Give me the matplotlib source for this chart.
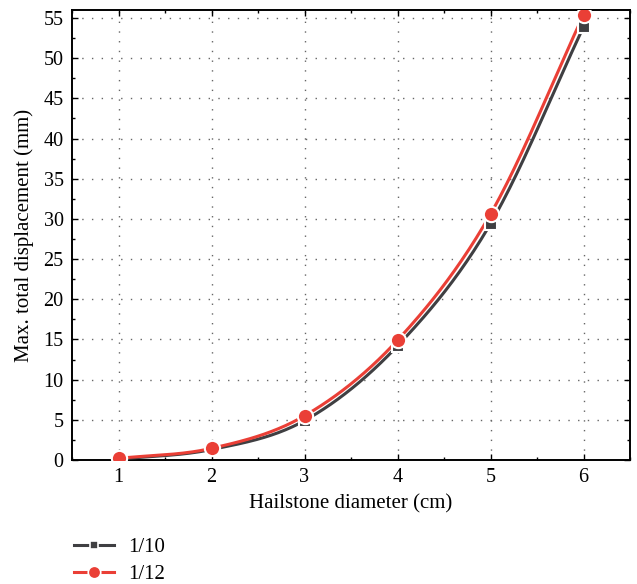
import numpy as np
import matplotlib
matplotlib.use("Agg")
import matplotlib.pyplot as plt
from matplotlib.ticker import MultipleLocator

# ── data ───────────────────────────────────────────────────────
diameter = [1, 2, 3, 4, 5, 6]
disp_1_10 = [0.1, 1.3, 4.9, 14.2, 29.4, 53.9]
disp_1_12 = [0.2, 1.45, 5.5, 14.9, 30.6, 55.4]

C_DARK = "#3f3f42"
C_RED = "#ea3f36"

plt.rcParams["font.family"] = ["Liberation Serif", "DejaVu Serif"]


def smooth(x, y, n=40):
    """Catmull-Rom curve through the points (drawing only)."""
    x, y = np.asarray(x, float), np.asarray(y, float)
    px = np.concatenate([[2 * x[0] - x[1]], x, [2 * x[-1] - x[-2]]])
    py = np.concatenate([[2 * y[0] - y[1]], y, [2 * y[-1] - y[-2]]])
    t = np.linspace(0, 1, n)
    xs, ys = [], []
    for i in range(1, len(px) - 2):
        for p, out in ((px, xs), (py, ys)):
            p0, p1, p2, p3 = p[i - 1], p[i], p[i + 1], p[i + 2]
            out.append(0.5 * ((2 * p1) + (-p0 + p2) * t
                              + (2 * p0 - 5 * p1 + 4 * p2 - p3) * t ** 2
                              + (-p0 + 3 * p1 - 3 * p2 + p3) * t ** 3))
    return np.concatenate(xs), np.concatenate(ys)


fig = plt.figure(figsize=(6.37, 5.84), dpi=100)
ax = fig.add_axes([72 / 637, 1 - 460 / 584, 558 / 637, 450 / 584])

for x, y, c, m, ms, lab in [
    (diameter, disp_1_10, C_DARK, "s", 8, "1/10"),
    (diameter, disp_1_12, C_RED, "o", 11, "1/12"),
]:
    sx, sy = smooth(x, y)
    ax.plot(sx, sy, color=c, lw=2.2, zorder=3)
    ax.plot(x, y, ls="none", marker=m, ms=ms, color=c,
            mec="white", mew=1.5, zorder=4)
    ax.plot([], [], color=c, lw=2.2, marker=m, ms=ms - 2,
            mec="white", mew=1.2, label=lab)

ax.set_xlim(0.5, 6.5)
ax.set_ylim(0, 56)
ax.xaxis.set_major_locator(MultipleLocator(1))
ax.xaxis.set_minor_locator(MultipleLocator(0.5))
ax.yaxis.set_major_locator(MultipleLocator(5))
ax.yaxis.set_minor_locator(MultipleLocator(2.5))
ax.tick_params(which="both", direction="in", top=True, right=True,
               labelsize=14.5, width=1.0)
ax.tick_params(which="major", length=4, pad=6)
ax.tick_params(which="minor", length=2.5)
ax.grid(True, which="major", color="#666666", lw=1.0, ls=(0, (1, 6)))
for s in ax.spines.values():
    s.set_linewidth(1.4)

ax.set_xlabel("Hailstone diameter (cm)", fontsize=15, labelpad=5)
ax.set_ylabel("Max. total displacement (mm)", fontsize=15, labelpad=7)

fig.legend(loc="center left", bbox_to_anchor=(64 / 637, 1 - 561 / 584),
           frameon=False, fontsize=15, handlelength=1.9, borderpad=0,
           labelspacing=0.35, handletextpad=0.7)

fig.savefig("out.png", dpi=100)
